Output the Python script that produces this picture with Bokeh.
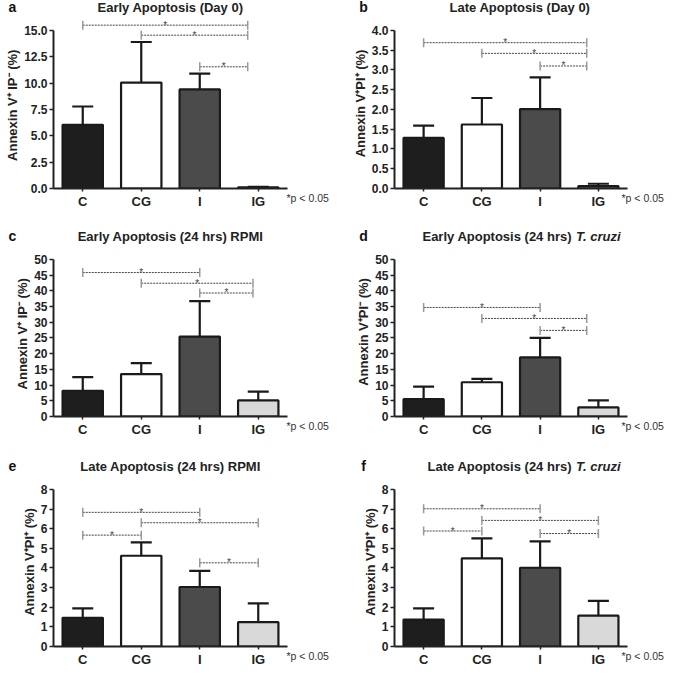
import math
from bokeh.plotting import figure
from bokeh.layouts import column, row
from bokeh.models import ColumnDataSource, FactorRange, Range1d, FixedTicker, NumeralTickFormatter, Label
from bokeh.embed import file_html
from bokeh.resources import INLINE
from bokeh.core.properties import value

FONT = "Liberation Sans"

categories = ["C", "CG", "I", "IG"]
bar_colors = ["#1e1e1e", "#ffffff", "#4b4b4b", "#d9d9d9"]

# ---- panel data (means and upward error) ----
a_mean = [6.05, 10.05, 9.4, 0.12]
a_err = [1.73, 3.85, 1.5, 0.04]
a_ticks = [0, 2.5, 5, 7.5, 10, 12.5, 15]
a_brackets = [("C", "IG", 15.5), ("CG", "IG", 14.55), ("I", "IG", 11.55)]

b_mean = [1.28, 1.62, 2.01, 0.06]
b_err = [0.31, 0.67, 0.8, 0.06]
b_ticks = [0, 0.5, 1, 1.5, 2, 2.5, 3, 3.5, 4]
b_brackets = [("C", "IG", 3.69), ("CG", "IG", 3.42), ("I", "IG", 3.1)]

c_mean = [8.2, 13.5, 25.4, 5.1]
c_err = [4.3, 3.5, 11.3, 2.8]
c_ticks = [0, 5, 10, 15, 20, 25, 30, 35, 40, 45, 50]
c_brackets = [("C", "I", 45.8), ("CG", "IG", 42.4), ("I", "IG", 39.3)]

d_mean = [5.5, 10.9, 18.8, 2.9]
d_err = [4.0, 1.1, 6.2, 2.2]
d_ticks = [0, 5, 10, 15, 20, 25, 30, 35, 40, 45, 50]
d_brackets = [("C", "I", 34.7), ("CG", "IG", 31.2), ("I", "IG", 27.4)]

e_mean = [1.46, 4.62, 3.03, 1.24]
e_err = [0.48, 0.68, 0.82, 0.96]
e_ticks = [0, 1, 2, 3, 4, 5, 6, 7, 8]
e_brackets = [("C", "I", 6.83), ("CG", "IG", 6.3), ("C", "CG", 5.67), ("I", "IG", 4.26)]

f_mean = [1.37, 4.49, 4.01, 1.57]
f_err = [0.57, 1.01, 1.34, 0.75]
f_ticks = [0, 1, 2, 3, 4, 5, 6, 7, 8]
f_brackets = [("C", "I", 7.01), ("CG", "IG", 6.42), ("C", "CG", 5.88), ("I", "IG", 5.75)]

panels = [
    dict(letter="a", title="Early Apoptosis (Day 0)", italic="", ylabel="Annexin  V\u207a IP\u207b (%)",
         mean=a_mean, err=a_err, ticks=a_ticks, fmt="0.0", brackets=a_brackets, ig_shift=-0.18),
    dict(letter="b", title="Late Apoptosis (Day 0)", italic="", ylabel="Annexin V\u207aPI\u207a (%)",
         mean=b_mean, err=b_err, ticks=b_ticks, fmt="0.0", brackets=b_brackets, ig_shift=-0.2),
    dict(letter="c", title="Early Apoptosis (24 hrs) RPMI", italic="", ylabel="Annexin  V\u207a IP\u207b (%)",
         mean=c_mean, err=c_err, ticks=c_ticks, fmt="0", brackets=c_brackets, ig_shift=-0.09),
    dict(letter="d", title="Early Apoptosis (24 hrs)", italic="T. cruzi", ylabel="Annexin V\u207aPI\u207b (%)",
         mean=d_mean, err=d_err, ticks=d_ticks, fmt="0", brackets=d_brackets, ig_shift=-0.2),
    dict(letter="e", title="Late Apoptosis (24 hrs) RPMI", italic="", ylabel="Annexin V\u207aPI\u207a (%)",
         mean=e_mean, err=e_err, ticks=e_ticks, fmt="0", brackets=e_brackets, ig_shift=0.0),
    dict(letter="f", title="Late Apoptosis (24 hrs)", italic="T. cruzi", ylabel="Annexin V\u207aPI\u207a (%)",
         mean=f_mean, err=f_err, ticks=f_ticks, fmt="0", brackets=f_brackets, ig_shift=0.0),
]

COL_W = [339, 330]
COL_LEFT = [53, 55]
COL_FRAME = [234, 233]
LETTER_SIDE = ["right", "left"]
P_DX = [-1, -6]          # "*p < 0.05" start relative to frame right (px)
LETTER_DX = [-41, -31]   # panel letter centre relative to frame left (px)
TITLE_DX = [0, 9]        # title centre relative to frame centre (px)
ROW_H = [211, 228, 230]
ROW_TOP = [18, 36, 38]
ROW_BOT = [22, 21, 21]
AXIS_PX = 159.0
TITLE_UP = 11.5


def make_panel(pp, ci, ri):
    width, height = COL_W[ci], ROW_H[ri]
    top, bottom, left = ROW_TOP[ri], ROW_BOT[ri], COL_LEFT[ci]
    fh = height - top - bottom
    fw = COL_FRAME[ci]
    ymax = pp["ticks"][-1]
    y_end = ymax * fh / AXIS_PX
    ppx = fw / len(categories)
    ppy = fh / y_end
    p = figure(width=width, height=height,
               x_range=FactorRange(*categories, range_padding=0),
               y_range=Range1d(0, y_end),
               output_backend="svg", toolbar_location=None,
               min_border_left=left, min_border_right=width - left - fw,
               min_border_top=top, min_border_bottom=bottom)
    p.title.visible = False
    p.outline_line_color = None
    p.xgrid.visible = False
    p.ygrid.visible = False
    p.background_fill_color = "white"
    p.border_fill_color = "white"

    upper = [m + e for m, e in zip(pp["mean"], pp["err"])]
    src = ColumnDataSource(dict(cat=categories, mean=pp["mean"], upper=upper, color=bar_colors))
    p.vbar(x="cat", top="mean", bottom=0, width=0.69, source=src,
           fill_color="color", line_color="#1a1a1a", line_width=2.2)
    p.segment(x0="cat", y0="mean", x1="cat", y1="upper", source=src,
              line_color="#1a1a1a", line_width=2.2)
    p.scatter(x="cat", y="upper", source=src, marker="dash", size=21,
              line_color="#1a1a1a", line_width=2.2)

    # significance brackets
    bx0, bx1, by, mid = [], [], [], []
    for l, r, yv in pp["brackets"]:
        x0 = categories.index(l) + 0.5
        x1 = categories.index(r) + 0.5 + (pp["ig_shift"] if r == "IG" else 0.0)
        bx0.append(x0); bx1.append(x1); by.append(yv); mid.append((x0 + x1) / 2)
    bsrc = ColumnDataSource(dict(x0=bx0, x1=bx1, y=by, mid=mid, star=["*"] * len(by)))
    p.segment(x0="x0", y0="y", x1="x1", y1="y", source=bsrc,
              line_color="#444444", line_width=1, line_dash="2 1")
    p.scatter(x="x0", y="y", source=bsrc, marker="dash", angle=math.pi / 2, size=9,
              line_color="#999999", line_width=1.5)
    p.scatter(x="x1", y="y", source=bsrc, marker="dash", angle=math.pi / 2, size=9,
              line_color="#999999", line_width=1.5)
    p.text(x="mid", y="y", text="star", source=bsrc, text_font=value(FONT),
           text_font_size="10px", text_align="center", text_baseline="middle",
           text_color="#444444", y_offset=0)

    # axes
    ya = p.yaxis[0]
    ya.ticker = FixedTicker(ticks=pp["ticks"])
    ya.formatter = NumeralTickFormatter(format=pp["fmt"])
    ya.bounds = (0, ymax)
    ya.axis_label = pp["ylabel"]
    ya.axis_label_text_font = FONT
    ya.axis_label_text_font_style = "bold"
    ya.axis_label_text_font_size = "13px"
    ya.axis_label_standoff = 1
    ya.axis_label_text_color = "#222222"
    ya.major_label_text_font = FONT
    ya.major_label_text_font_style = "bold"
    ya.major_label_text_font_size = "12px"
    ya.major_label_text_color = "#222222"
    ya.major_label_standoff = 2
    ya.major_tick_out = 4
    ya.major_tick_in = 0
    ya.major_tick_line_width = 1.5
    ya.minor_tick_line_color = None
    ya.axis_line_width = 2
    ya.axis_line_color = "#222222"
    ya.major_tick_line_color = "#222222"

    xa = p.xaxis[0]
    xa.major_label_text_font = FONT
    xa.major_label_text_font_style = "bold"
    xa.major_label_text_font_size = "13px"
    xa.major_label_text_color = "#222222"
    xa.major_label_standoff = 2
    xa.major_tick_out = 3
    xa.major_tick_in = 0
    xa.major_tick_line_width = 1.5
    xa.major_tick_line_color = "#222222"
    xa.axis_line_width = 2
    xa.axis_line_color = "#222222"

    # titles and labels (in side panels so they are not clipped to the frame)
    ty = y_end + TITLE_UP / ppy
    xc = len(categories) / 2 + TITLE_DX[ci] / ppx
    if pp["italic"]:
        p.add_layout(Label(x=xc + 52 / ppx, y=ty, text=pp["title"],
                           text_align="right", text_baseline="middle", text_font=FONT,
                           text_font_style="bold", text_font_size="13px", text_color="#222222"), "above")
        p.add_layout(Label(x=xc + 56 / ppx, y=ty, text=pp["italic"],
                           text_align="left", text_baseline="middle", text_font=FONT,
                           text_font_style="bold italic", text_font_size="13px", text_color="#222222"), "above")
    else:
        p.add_layout(Label(x=xc, y=ty, text=pp["title"],
                           text_align="center", text_baseline="middle", text_font=FONT,
                           text_font_style="bold", text_font_size="13px", text_color="#222222"), "above")
    p.add_layout(Label(x=len(categories) + P_DX[ci] / ppx, y=-10 / ppy, text="*p < 0.05",
                       text_align="left", text_baseline="middle", text_font=FONT,
                       text_font_size="10.5px", text_color="#333333"), "right")
    p.add_layout(Label(x=LETTER_DX[ci] / ppx, y=ty, text=pp["letter"],
                       text_align="center", text_baseline="middle", text_font=FONT,
                       text_font_style="bold", text_font_size="14px", text_color="#111111"),
                 LETTER_SIDE[ci])
    return p


figs = [make_panel(pp, i % 2, i // 2) for i, pp in enumerate(panels)]
layout = column(row(figs[0], figs[1], spacing=0),
                row(figs[2], figs[3], spacing=0),
                row(figs[4], figs[5], spacing=0), spacing=0)

open("out.html", "w").write(file_html(layout, INLINE))
